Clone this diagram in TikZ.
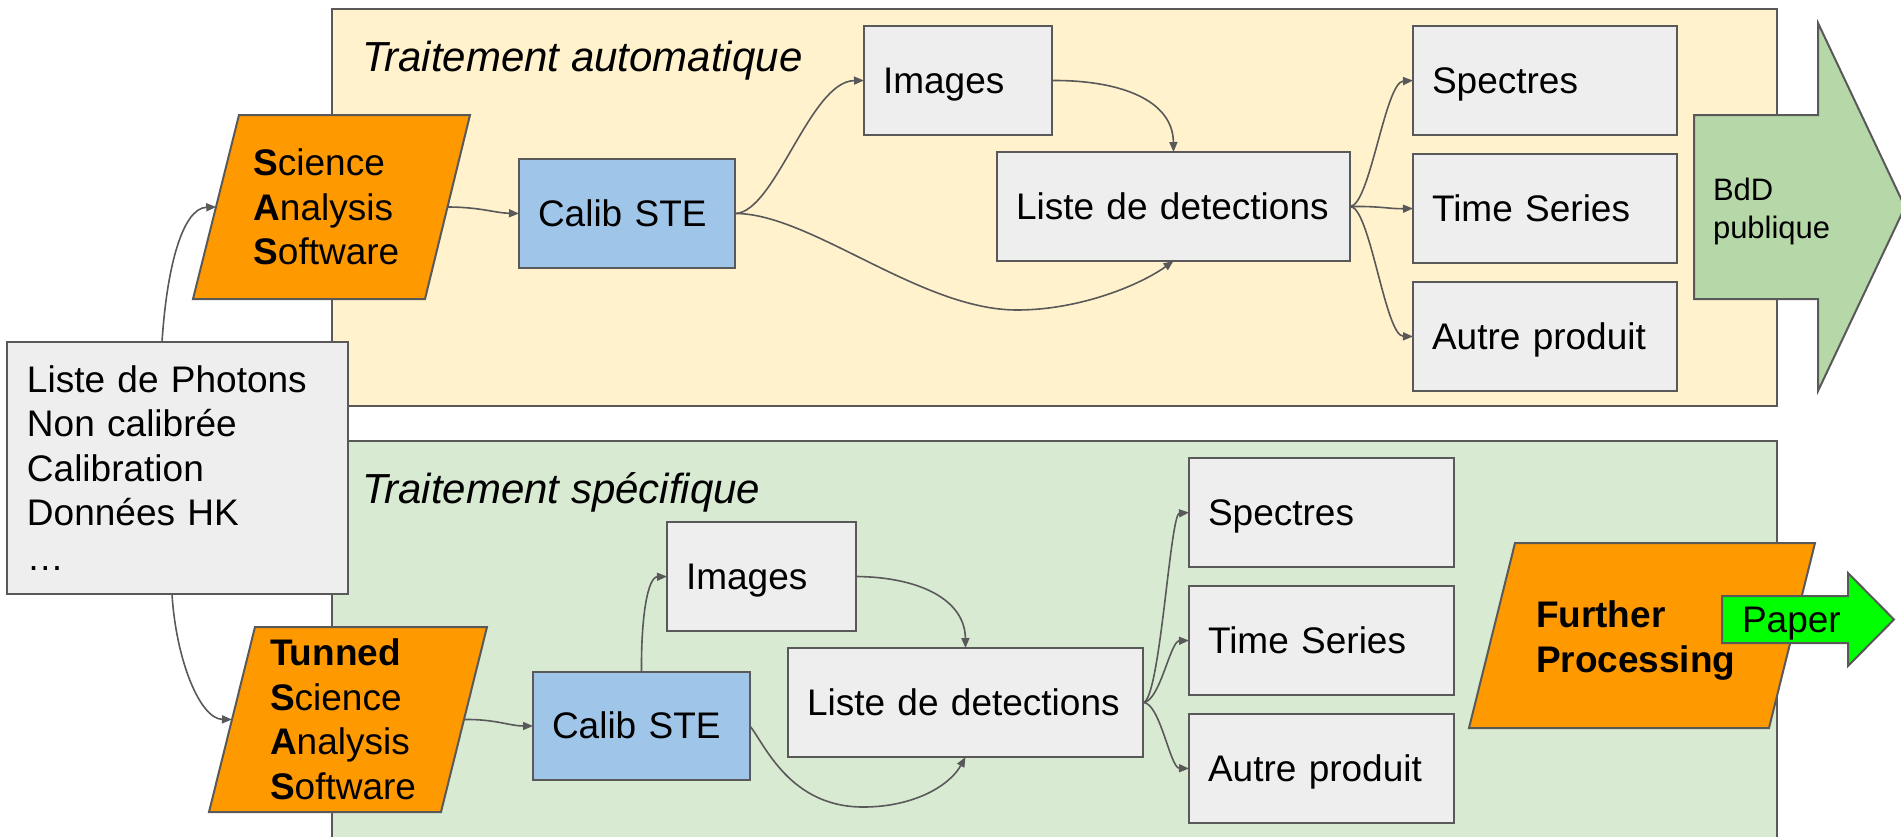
\documentclass[tikz,border=0pt]{standalone}
\usepackage{fontspec}
\setmainfont{Liberation Sans}
\usetikzlibrary{arrows.meta}
\definecolor{bordergray}{HTML}{595959}
\definecolor{panelyellow}{HTML}{FFF2CC}
\definecolor{panelgreen}{HTML}{D9EAD3}
\definecolor{boxgray}{HTML}{EEEEEE}
\definecolor{calibblue}{HTML}{9FC5E8}
\definecolor{procorange}{HTML}{FF9900}
\definecolor{bddgreen}{HTML}{B6D7A8}
\definecolor{papergreen}{HTML}{00FF00}
\begin{document}
\begin{tikzpicture}[x=1pt,y=-1pt,
  every node/.style={inner sep=0pt, outer sep=0pt},
  basefont/.style={font=\fontsize{37}{44.5}\selectfont},
  panel/.style={draw=bordergray, line width=2pt, rectangle},
  plainbox/.style={basefont, draw=bordergray, line width=2pt, fill=boxgray, rectangle,
    inner xsep=19pt, align=left},
  dbox/.style={plainbox, text height=33.5pt, text depth=7.8pt},
  cbox/.style={dbox, fill=calibblue},
  ptext/.style={basefont, rectangle, align=left},
  shapeline/.style={draw=bordergray, line width=2pt, line join=miter},
  conn/.style={draw=bordergray, line width=1.6pt, -{Triangle[length=10pt,width=8pt]}},
  titletext/.style={font=\fontsize{42}{50}\selectfont\itshape, anchor=base west},
]
\useasboundingbox (0,0) rectangle (1901,836);

% panels
\node[panel, fill=panelyellow, minimum width=1445pt, minimum height=397pt] (panelA) at (1054.5,207.5) {};
\node[panel, fill=panelgreen, minimum width=1445pt, minimum height=409pt] (panelB) at (1054.5,645.5) {};

% BdD arrow
\draw[shapeline, fill=bddgreen] (1694,115) -- (1818,115) -- (1818,23) -- (1905,207)
  -- (1818,391) -- (1818,299) -- (1694,299) -- cycle;
\node[font=\fontsize{31}{38}\selectfont, align=left, anchor=west] (bdd) at (1713,211) {BdD\\publique};

% titles
\node[titletext] (titleA) at (362,71) {Traitement automatique};
\node[titletext] (titleB) at (362,503) {Traitement spécifique};

% top row boxes
\node[cbox, text width=178pt, minimum width=216pt, minimum height=109pt] (calibA) at (627,213.5) {Calib STE};
\node[dbox, text width=150pt, minimum width=188pt, minimum height=109pt] (imgA) at (958,80.5) {Images};
\node[dbox, text width=315pt, minimum width=353pt, minimum height=109pt] (detA) at (1173.5,206.5) {Liste de detections};
\node[dbox, text width=226pt, minimum width=264pt, minimum height=109pt] (specA) at (1545,80.5) {Spectres};
\node[dbox, text width=226pt, minimum width=264pt, minimum height=109pt] (tsA) at (1545,208.5) {Time Series};
\node[dbox, text width=226pt, minimum width=264pt, minimum height=109pt] (autA) at (1545,336.5) {Autre produit};

% bottom row boxes
\node[cbox, text width=179pt, minimum width=217pt, minimum height=108pt] (calibB) at (641.5,726) {Calib STE};
\node[dbox, text width=151pt, minimum width=189pt, minimum height=109pt] (imgB) at (761.5,576.5) {Images};
\node[dbox, text width=317pt, minimum width=355pt, minimum height=109pt] (detB) at (965.5,702.5) {Liste de detections};
\node[dbox, text width=227pt, minimum width=265pt, minimum height=109pt] (specB) at (1321.5,512.5) {Spectres};
\node[dbox, text width=227pt, minimum width=265pt, minimum height=109pt] (tsB) at (1321.5,640.5) {Time Series};
\node[dbox, text width=227pt, minimum width=265pt, minimum height=109pt] (autB) at (1321.5,768.5) {Autre produit};

% parallelograms
\draw[shapeline, fill=procorange] (239,115) -- (470,115) -- (425,299) -- (193,299) -- cycle;
\node[ptext, text width=157pt, inner xsep=37pt, minimum width=231pt, minimum height=184pt] (sasA) at (331.75,207)
  {\textbf{S}cience\\\textbf{A}nalysis\\\textbf{S}oftware};
\draw[shapeline, fill=procorange] (255,627) -- (487,627) -- (441,812) -- (209,812) -- cycle;
\node[ptext, text width=156pt, inner xsep=38pt, minimum width=232pt, minimum height=185pt] (sasB) at (348,719.5)
  {\textbf{Tunned}\\\textbf{S}cience\\\textbf{A}nalysis\\\textbf{S}oftware};
\draw[shapeline, fill=procorange] (1515,543) -- (1815,543) -- (1769,728) -- (1469,728) -- cycle;
\node[ptext, text width=212pt, inner xsep=44pt, minimum width=300pt, minimum height=185pt] (further) at (1642,640.5)
  {\textbf{Further}\\\textbf{Processing}};

% Paper arrow
\draw[shapeline, fill=papergreen] (1722,596) -- (1848,596) -- (1848,573) -- (1894,619.5)
  -- (1848,666) -- (1848,643) -- (1722,643) -- cycle;
\node[basefont, anchor=west, text height=33.5pt, text depth=7.8pt] (paper) at (1742,619.5) {Paper};

% input box
\node[plainbox, text width=301pt, inner xsep=20pt, minimum width=341pt, minimum height=252pt] (photons) at (177.5,468)
  {Liste de Photons\\Non calibrée\\Calibration\\Données HK\\…};

% connectors (top)
\draw[conn] ([xshift=-15.5pt]photons.north) .. controls (167,265) and (183,208) .. (sasA.west);
\draw[conn] (sasA.east) .. controls (480,207) and (495,213) .. (calibA.west);
\draw[conn] (calibA.east) .. controls (775,213) and (810,81) .. (imgA.west);
\draw[conn] (calibA.east) .. controls (810,213) and (920,310) .. (1017,310)
  .. controls (1080,310) and (1140,285) .. (detA.south);
\draw[conn] (imgA.east) .. controls (1120,80) and (1173,100) .. (detA.north);
\draw[conn] (detA.east) .. controls (1370,206) and (1385,82) .. (specA.west);
\draw[conn] (detA.east) .. controls (1380,206) and (1390,209) .. (tsA.west);
\draw[conn] (detA.east) .. controls (1370,206) and (1385,336) .. (autA.west);

% connectors (bottom)
\draw[conn] ([xshift=-5.5pt]photons.south) .. controls (176,660) and (200,719) .. (sasB.west);
\draw[conn] (sasB.east) .. controls (495,719) and (510,726) .. (calibB.west);
\draw[conn] (calibB.north) .. controls (641,615) and (648,577) .. (imgB.west);
\draw[conn] (calibB.east) .. controls (765,745) and (790,807) .. (863,807)
  .. controls (915,807) and (950,785) .. (detB.south);
\draw[conn] (imgB.east) .. controls (920,577) and (965,600) .. (detB.north);
\draw[conn] (detB.east) .. controls (1160,702) and (1170,514) .. (specB.west);
\draw[conn] (detB.east) .. controls (1160,702) and (1170,641) .. (tsB.west);
\draw[conn] (detB.east) .. controls (1160,702) and (1170,768) .. (autB.west);
\end{tikzpicture}
\end{document}
